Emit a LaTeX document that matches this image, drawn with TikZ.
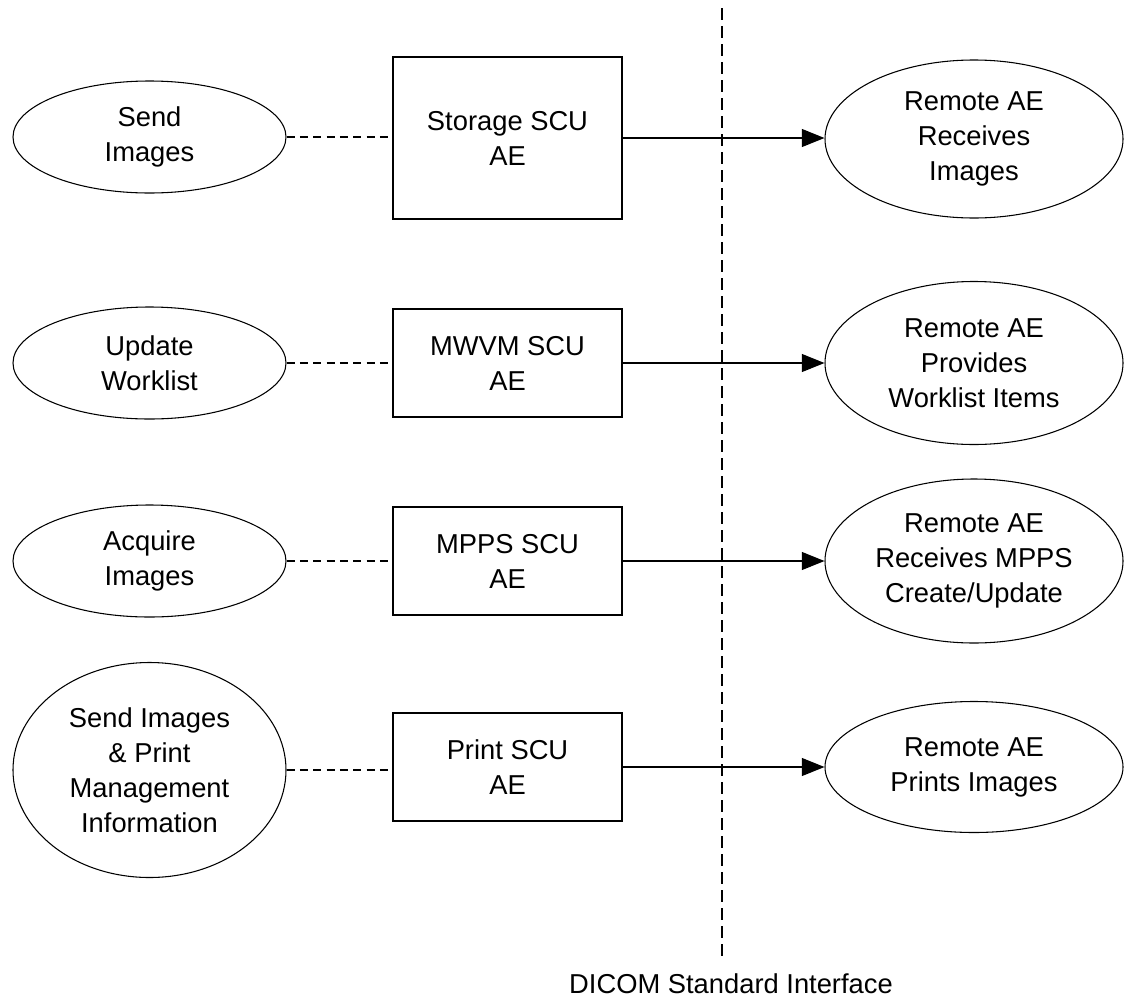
\documentclass[tikz,border=0pt]{standalone}
\usepackage{fontspec}
\setmainfont{Liberation Sans}
\usetikzlibrary{shapes.geometric,arrows.meta}
\begin{document}
\begin{tikzpicture}[x=0.75pt,y=-0.75pt,
 every node/.style={font=\fontsize{20.5}{26.25}\selectfont, align=center, inner sep=0pt},
 usecase/.style={ellipse, draw, line width=0.8pt, minimum width=204.75pt, minimum height=84pt},
 remote/.style={ellipse, draw, line width=0.8pt, minimum width=223.5pt},
 aebox/.style={rectangle, draw, line width=1.1pt, minimum width=171.75pt, minimum height=81pt},
 link/.style={dash pattern=on 6pt off 4pt, line width=0.8pt},
 flow/.style={-{Triangle[length=17pt,width=13.5pt]}, line width=0.9pt},
 iface/.style={dash pattern=on 9pt off 4.5pt, line width=0.9pt}]
\path[use as bounding box] (0,0) rectangle (1124,1000);

% interface line
\coordinate (itop) at (722,8);
\coordinate (ibot) at (722,960);
\draw[iface] (itop) -- (ibot);
\node[anchor=base] (ilabel) at (731,993) {DICOM Standard Interface};

% left use cases
\node[usecase] (u1) at (149.5,137) {Send\\Images};
\node[usecase] (u2) at (149.5,363) {Update\\Worklist};
\node[usecase] (u3) at (149.5,561) {Acquire\\Images};
\node[usecase, minimum height=161.25pt] (u4) at (149.5,770) {Send Images\\\& Print\\Management\\Information};

% AE boxes
\node[aebox, minimum height=121.5pt] (b1) at (507.5,138) {Storage SCU\\AE};
\node[aebox] (b2) at (507.5,363) {MWVM SCU\\AE};
\node[aebox] (b3) at (507.5,561) {MPPS SCU\\AE};
\node[aebox] (b4) at (507.5,767) {Print SCU\\AE};

% remote AEs
\node[remote, minimum height=118.5pt] (r1) at (974,139) {Remote AE\\Receives\\Images};
\node[remote, minimum height=122.25pt] (r2) at (974,363) {Remote AE\\Provides\\Worklist Items};
\node[remote, minimum height=123pt] (r3) at (974,561) {Remote AE\\Receives MPPS\\Create/Update};
\node[remote, minimum height=98.25pt] (r4) at (974,767) {Remote AE\\Prints Images};

% dashed links
\draw[link] (u1.east) -- (u1.east -| b1.west);
\draw[link] (u2.east) -- (u2.east -| b2.west);
\draw[link, line width=1.5pt] (u3.east) -- (u3.east -| b3.west);
\draw[link] (u4.east) -- (u4.east -| b4.west);

% arrows
\draw[flow] (b1.east) -- (b1.east -| r1.west);
\draw[flow] (b2.east) -- (b2.east -| r2.west);
\draw[flow] (b3.east) -- (b3.east -| r3.west);
\draw[flow] (b4.east) -- (b4.east -| r4.west);
\end{tikzpicture}
\end{document}
